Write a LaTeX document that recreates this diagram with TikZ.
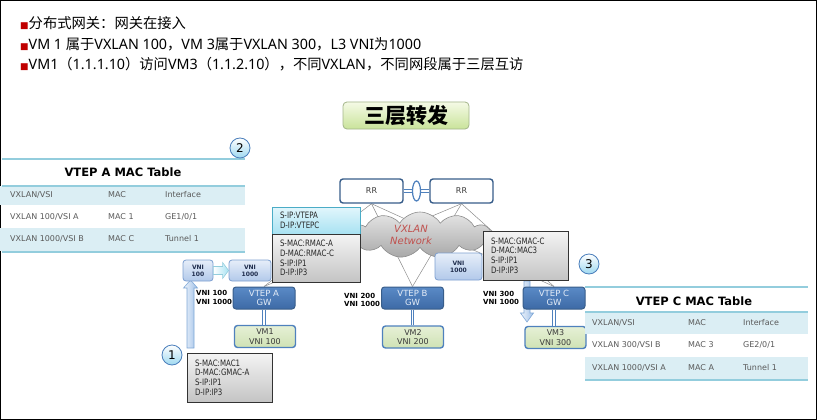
\documentclass[tikz,border=0pt]{standalone}
\usepackage{fontspec}
\setmainfont{DejaVu Sans}
\newfontfamily\cjk{Noto Sans CJK SC}
\newfontfamily\lat{Noto Sans}
\newfontfamily\pkt[FakeStretch=0.8]{DejaVu Sans}
\usetikzlibrary{shapes.symbols,calc,backgrounds}

\definecolor{bulletred}{HTML}{C00000}
\definecolor{vtepedge}{HTML}{385D8A}
\definecolor{vteptop}{HTML}{5A8AC6}
\definecolor{vtepbot}{HTML}{3D6AA6}
\definecolor{vteptext}{HTML}{E4ECF7}
\definecolor{vmtop}{HTML}{E6F0D6}
\definecolor{vmbot}{HTML}{CFE2B4}
\definecolor{vmtext}{HTML}{3A3A3A}
\definecolor{vniedge}{HTML}{7C9FD0}
\definecolor{vnitop}{HTML}{E6EEF9}
\definecolor{vnibot}{HTML}{B2C9EA}
\definecolor{vnitext}{HTML}{1F2D4D}
\definecolor{pkttop}{HTML}{F4F4F4}
\definecolor{pktbot}{HTML}{C4C4C4}
\definecolor{pkttext}{HTML}{262626}
\definecolor{cyanedge}{HTML}{4BACC6}
\definecolor{cyantop}{HTML}{E2F6FC}
\definecolor{cyanbot}{HTML}{A8E2F2}
\definecolor{linkblue}{HTML}{4F81BD}
\definecolor{arrowedge}{HTML}{7FA7D6}
\definecolor{arrowleft}{HTML}{EEF4FB}
\definecolor{arrowright}{HTML}{9FC0E8}
\definecolor{calloutedge}{HTML}{4A7EBB}
\definecolor{callout}{HTML}{9ED8F0}
\definecolor{tabteal}{HTML}{93CDDD}
\definecolor{tabrow}{HTML}{DBEEF4}
\definecolor{tabtext}{HTML}{595959}
\definecolor{cloudedge}{HTML}{8C8C8C}
\definecolor{cloudtop}{HTML}{E6E6E6}
\definecolor{cloudbot}{HTML}{A8A8A8}
\definecolor{cloudred}{HTML}{C0504D}
\definecolor{titletop}{HTML}{F5FAE6}
\definecolor{titlebot}{HTML}{C9E39A}
\definecolor{titleedge}{HTML}{A3B58A}

\newcommand\redsq{{\rmfamily\fontsize{9}{9}\selectfont\color{bulletred}■}}

\begin{document}
\begin{tikzpicture}[x=1pt,y=-1pt,
	vtep/.style={draw=vtepedge, line width=1pt, rounded corners=3pt, top color=vteptop, bottom color=vtepbot, minimum width=62pt, minimum height=22pt, inner sep=0pt, align=center, text=vteptext, font=\fontsize{8.5}{9.5}\selectfont},
	vmbox/.style={draw=linkblue, line width=1.4pt, rounded corners=3pt, top color=vmtop, bottom color=vmbot, minimum width=61pt, minimum height=22pt, inner sep=0pt, align=center, text=vmtext, font=\fontsize{8}{9.5}\selectfont},
	rrbox/.style={draw=vtepedge, line width=1.4pt, rounded corners=3pt, fill=white, minimum width=63pt, minimum height=24pt, text=vmtext, font=\fontsize{8}{9}\selectfont},
	vnibox/.style={draw=vniedge, line width=0.8pt, rounded corners=3pt, top color=vnitop, bottom color=vnibot, inner sep=0pt, align=center, text=vnitext, font=\fontsize{6}{7}\selectfont\bfseries},
	vnilabel/.style={anchor=west, align=left, inner sep=0pt, font=\fontsize{7}{8.5}\selectfont\bfseries},
	pktgrey/.style={draw=black!80, line width=0.6pt, top color=pkttop, bottom color=pktbot, inner xsep=8pt, inner ysep=0pt, align=left, text=pkttext, font=\pkt\fontsize{8.8}{9.8}\selectfont},
	pktcyan/.style={pktgrey, draw=cyanedge, top color=cyantop, bottom color=cyanbot},
	dbl/.style={draw=linkblue, line width=0.8pt, double=white, double distance=1.6pt},
	rrline/.style={draw=black!45, line width=0.5pt},
	fatarrow/.style={draw=arrowedge, line width=0.6pt, left color=arrowleft, right color=arrowright},
	callout/.style={circle, draw=calloutedge, line width=0.8pt, top color=white, bottom color=callout, minimum size=20pt, inner sep=0pt, font=\fontsize{12}{12}\selectfont},
	tabline/.style={draw=tabteal, line width=2pt},
	tabhead/.style={inner sep=0pt, font=\fontsize{11.5}{12}\selectfont\bfseries},
	tabcell/.style={anchor=west, inner sep=0pt, text=tabtext, font=\fontsize{8}{9}\selectfont},
	topline/.style={anchor=west, inner sep=0pt, font=\cjk\fontsize{14.3}{16}\selectfont},
	titlebox/.style={draw=titleedge, line width=0.8pt, rounded corners=4pt, top color=titletop, bottom color=titlebot, minimum width=126pt, minimum height=25pt, font=\cjk\bfseries\fontsize{21}{21}\selectfont}]

	\useasboundingbox (0,0) rectangle (817,420);
	\draw[black, line width=1.2pt] (0.6,0.6) rectangle (816.4,419.4);

	% bullet lines
	\node[topline] (l1) at (20,23) {\redsq 分布式网关：网关在接入};
	\node[topline] (l2) at (20,44) {\redsq{\lat VM 1 }属于{\lat VXLAN 100}，{\lat VM 3}属于{\lat VXLAN 300}，{\lat L3 VNI}为{\lat 1000}};
	\node[topline] (l3) at (20,64) {\redsq{\lat VM1}（{\lat 1.1.1.10}）访问{\lat VM3}（{\lat 1.1.2.10}），不同{\lat VXLAN}，不同网段属于三层互访};

	\node[titlebox] (ttl) at (406,115.5) {三层转发};

	% underlay
	\node[cloud, cloud puffs=11, cloud puff arc=115, aspect=3, draw=cloudedge, line width=0.6pt, top color=cloudtop, bottom color=cloudbot, minimum width=142pt, minimum height=46pt] (net) at (420,235) {};
	\node[align=center, text=cloudred, font=\fontsize{10}{11.5}\selectfont\itshape] (netlbl) at (411,235) {VXLAN\\Network};

	\node[rrbox] (rrL) at (371.5,191) {RR};
	\node[rrbox] (rrR) at (461.5,191) {RR};
	\draw[dbl, line width=1.2pt, double distance=2pt] (rrL) -- (rrR);
	\draw[draw=linkblue, line width=1.2pt, fill=white] ($(rrL.east)!0.5!(rrR.west)$) ellipse (4 and 10);

	% fat arrows
	\coordinate (upTail) at (190.5,348);
	\coordinate (upTip) at (190.5,280);
	\path[fatarrow] ($(upTail)+(-3.5,0)$) -- ($(upTip)+(-3.5,8)$) -- ($(upTip)+(-7,8)$) -- (upTip) -- ($(upTip)+(7,8)$) -- ($(upTip)+(3.5,8)$) -- ($(upTail)+(3.5,0)$) -- cycle;
	\coordinate (dnTail) at (527,281);
	\coordinate (dnTip) at (527,322);
	\path[fatarrow] ($(dnTail)+(-3,0)$) -- ($(dnTip)+(-3,-9)$) -- ($(dnTip)+(-6.5,-9)$) -- (dnTip) -- ($(dnTip)+(6.5,-9)$) -- ($(dnTip)+(3,-9)$) -- ($(dnTail)+(3,0)$) -- cycle;

	% gateways and VMs
	\node[vtep] (vtepA) at (264,298) {VTEP A\\GW};
	\node[vtep] (vtepB) at (412.5,298) {VTEP B\\GW};
	\node[vtep] (vtepC) at (554,298) {VTEP C\\GW};
	\node[vmbox] (vm1) at (265,336.5) {VM1\\VNI 100};
	\node[vmbox] (vm2) at (413,337) {VM2\\VNI 200};
	\node[vmbox] (vm3) at (555.5,337.5) {VM3\\VNI 300};
	\draw[dbl] (vtepA.south) -- (vtepA.south |- vm1.north);
	\draw[dbl] (vtepB.south) -- (vtepB.south |- vm2.north);
	\draw[dbl] (vtepC.south) -- (vtepC.south |- vm3.north);

	\begin{pgfonlayer}{background}
	\foreach \r in {rrL,rrR}
		\foreach \v in {vtepA,vtepB,vtepC}
			\draw[rrline] (\r.south) -- (\v.north);
	\end{pgfonlayer}

	\node[vnilabel] (lblA) at (196,297.5) {VNI 100\\VNI 1000};
	\node[vnilabel] (lblB) at (344,300) {VNI 200\\VNI 1000};
	\node[vnilabel] (lblC) at (483,298) {VNI 300\\VNI 1000};

	% packets
	\node[pktcyan, text width=72pt, minimum height=27pt] (pktAo) at (316,220.5) {S-IP:VTEPA\\D-IP:VTEPC};
	\node[pktgrey, text width=72pt, minimum height=48pt] (pktAi) at (316,258) {S-MAC:RMAC-A\\D-MAC:RMAC-C\\S-IP:IP1\\D-IP:IP3};
	\node[pktgrey, text width=69pt, minimum height=49pt] (pktC) at (525.5,255.5) {S-MAC:GMAC-C\\D-MAC:MAC3\\S-IP:IP1\\D-IP:IP3};
	\node[pktgrey, text width=69pt, minimum height=49pt] (pkt1) at (229.5,377.5) {S-MAC:MAC1\\D-MAC:GMAC-A\\S-IP:IP1\\D-IP:IP3};

	\node[vnibox, minimum width=30pt, minimum height=21pt] (vniA100) at (198,270.5) {VNI\\100};
	\node[vnibox, minimum width=42pt, minimum height=21pt] (vniA1000) at (250,270.5) {VNI\\1000};
	\node[vnibox, minimum width=47pt, minimum height=27pt] (vniC1000) at (458.5,266.5) {VNI\\1000};
	\path[fatarrow, left color=white, right color=cyanbot, draw=cyanedge!60] ($(vniA100.east)+(0,-4)$) -- ($(vniA1000.west)+(-6,-4)$) -- ($(vniA1000.west)+(-6,-8)$) -- (vniA1000.west) -- ($(vniA1000.west)+(-6,8)$) -- ($(vniA1000.west)+(-6,4)$) -- ($(vniA100.east)+(0,4)$) -- cycle;

	% VTEP A MAC table
	\fill[tabrow] (0,186) rectangle (245,205);
	\fill[tabrow] (0,228) rectangle (245,251);
	\draw[tabline] (2,159) -- (245,159);
	\draw[tabline] (2,185.5) -- (245,185.5);
	\draw[tabline] (2,251.5) -- (245,251.5);
	\node[tabhead] (tabA) at (123,172) {VTEP A MAC Table};
	\node[tabcell] (a11) at (10,195) {VXLAN/VSI};
	\node[tabcell] (a12) at (108,195) {MAC};
	\node[tabcell] (a13) at (165,195) {Interface};
	\node[tabcell] (a21) at (10,217) {VXLAN 100/VSI A};
	\node[tabcell] (a22) at (108,217) {MAC 1};
	\node[tabcell] (a23) at (165,217) {GE1/0/1};
	\node[tabcell] (a31) at (10,239) {VXLAN 1000/VSI B};
	\node[tabcell] (a32) at (108,239) {MAC C};
	\node[tabcell] (a33) at (165,239) {Tunnel 1};

	% VTEP C MAC table
	\fill[tabrow] (585,313) rectangle (808,334);
	\fill[tabrow] (585,357) rectangle (808,379);
	\draw[tabline] (585,287) -- (808,287);
	\draw[tabline] (585,312) -- (808,312);
	\draw[tabline] (585,379.5) -- (808,379.5);
	\node[tabhead] (tabC) at (694,301.5) {VTEP C MAC Table};
	\node[tabcell] (c11) at (592,323) {VXLAN/VSI};
	\node[tabcell] (c12) at (688,323) {MAC};
	\node[tabcell] (c13) at (743,323) {Interface};
	\node[tabcell] (c21) at (592,345) {VXLAN 300/VSI B};
	\node[tabcell] (c22) at (688,345) {MAC 3};
	\node[tabcell] (c23) at (743,345) {GE2/0/1};
	\node[tabcell] (c31) at (592,368) {VXLAN 1000/VSI A};
	\node[tabcell] (c32) at (688,368) {MAC A};
	\node[tabcell] (c33) at (743,368) {Tunnel 1};

	% step numbers
	\node[callout] (n1) at (172,355) {1};
	\node[callout] (n2) at (240,148) {2};
	\node[callout] (n3) at (589,264) {3};

\end{tikzpicture}
\end{document}
